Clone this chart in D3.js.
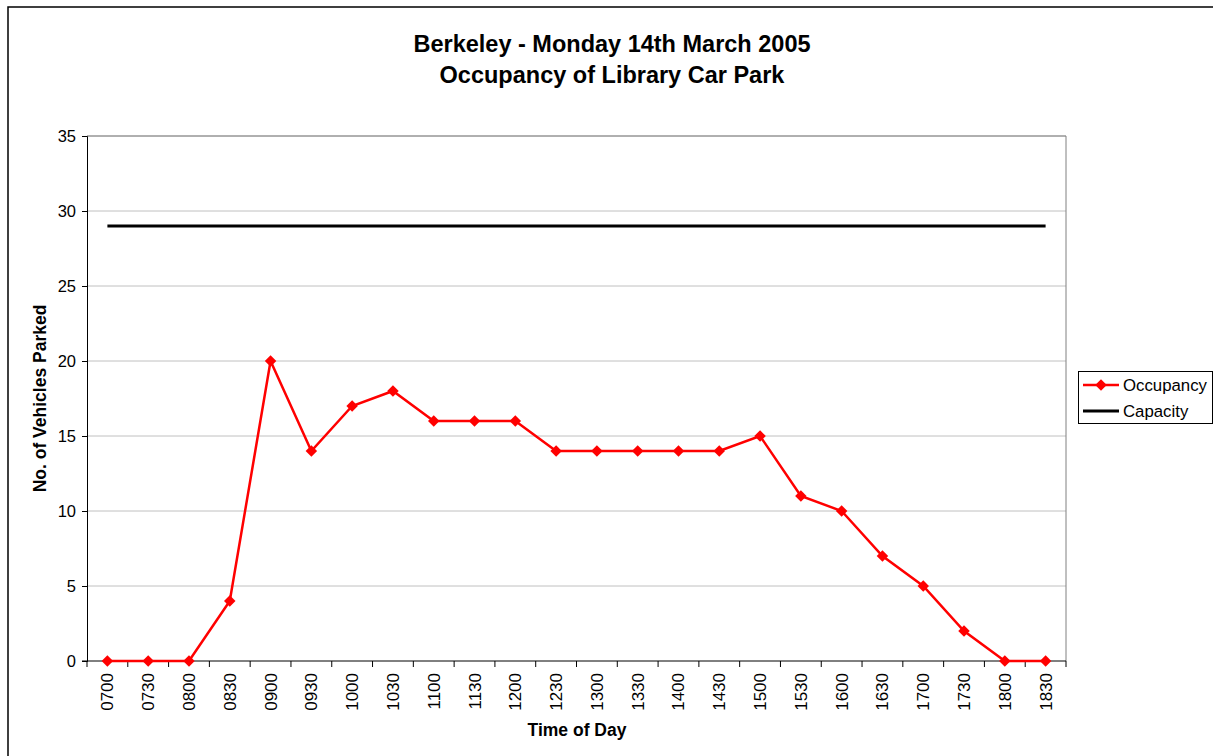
<!DOCTYPE html>
<html>
<head>
<meta charset="utf-8">
<script src="https://cdn.jsdelivr.net/npm/d3@7"></script>
<style>
  body { margin: 0; background: #fff; }
  svg { font-family: "Liberation Sans", Arial, sans-serif; }
</style>
</head>
<body>
<svg id="chart" width="1213" height="756"></svg>
<script>
// chart values
var times = ["0700","0730","0800","0830","0900","0930","1000","1030","1100","1130","1200","1230",
             "1300","1330","1400","1430","1500","1530","1600","1630","1700","1730","1800","1830"];
var occupancy = [0,0,0,4,20,14,17,18,16,16,16,14,14,14,14,14,15,11,10,7,5,2,0,0];
var capacity = [29,29,29,29,29,29,29,29,29,29,29,29,29,29,29,29,29,29,29,29,29,29,29,29];
var yTicks = [0,5,10,15,20,25,30,35];
var titleLines = ["Berkeley - Monday 14th March 2005", "Occupancy of Library Car Park"];

var svg = d3.select('#chart');

// outer chart border
svg.append('rect')
    .attr('x', 8).attr('y', 7)
    .attr('width', 1220).attr('height', 770)
    .attr('fill', 'none')
    .attr('stroke', '#000')
    .attr('stroke-width', 1.5);

var plot = { left: 87, top: 136, right: 1066, bottom: 661 };

var xScale = d3.scaleBand()
    .domain(times)
    .range([plot.left, plot.right]);

var yScale = d3.scaleLinear()
    .domain([0, 35])
    .range([plot.bottom, plot.top]);

// gridlines
svg.append('g').selectAll('line')
    .data(yTicks.filter(function(d){ return d > 0; }))
    .enter()
    .append('line')
        .attr('x1', plot.left).attr('x2', plot.right)
        .attr('y1', function(d){ return yScale(d); })
        .attr('y2', function(d){ return yScale(d); })
        .attr('stroke', '#c0c0c0')
        .attr('stroke-width', 1);

// plot frame (top + right)
svg.append('path')
    .attr('d', `M${plot.left},${plot.top}H${plot.right}V${plot.bottom}`)
    .attr('fill', 'none')
    .attr('stroke', '#808080')
    .attr('stroke-width', 1);

// y axis
var yAxis = d3.axisLeft(yScale)
    .tickValues(yTicks)
    .tickSize(5)
    .tickPadding(6);

var yG = svg.append('g')
    .attr('transform', `translate(${plot.left},0)`)
    .call(yAxis);
yG.select('.domain').attr('stroke', '#000');
yG.selectAll('text').attr('font-size', 16.5).attr('font-family', '"Liberation Sans", Arial, sans-serif').attr('fill', '#000');

// x axis: ticks between categories
var xAxisG = svg.append('g');
xAxisG.append('line')
    .attr('x1', plot.left - 5).attr('x2', plot.right)
    .attr('y1', plot.bottom).attr('y2', plot.bottom)
    .attr('stroke', '#000');
var bounds = times.map(function(t){ return xScale(t); }).concat([plot.right]);
xAxisG.selectAll('.xtick')
    .data(bounds)
    .enter()
    .append('line')
        .attr('x1', function(d){ return d; })
        .attr('x2', function(d){ return d; })
        .attr('y1', plot.bottom)
        .attr('y2', plot.bottom + 6)
        .attr('stroke', '#000');
xAxisG.selectAll('.xlabel')
    .data(times)
    .enter()
    .append('text')
        .attr('transform', function(d){
            return `translate(${xScale(d) + xScale.bandwidth() / 2 + 6},${plot.bottom + 12}) rotate(-90)`;
        })
        .attr('text-anchor', 'end')
        .attr('font-size', 17)
        .text(function(d){ return d; });

// axis titles
svg.append('text')
    .attr('x', 577)
    .attr('y', 736)
    .attr('text-anchor', 'middle')
    .attr('font-size', 17.5)
    .attr('font-weight', 'bold')
    .text('Time of Day');

svg.append('text')
    .attr('transform', `translate(46,${(plot.top + plot.bottom) / 2}) rotate(-90)`)
    .attr('text-anchor', 'middle')
    .attr('font-size', 17.5)
    .attr('font-weight', 'bold')
    .text('No. of Vehicles Parked');

// title
svg.append('g').selectAll('text')
    .data(titleLines)
    .enter()
    .append('text')
        .attr('x', 612)
        .attr('y', function(d, i){ return 52 + i * 31; })
        .attr('text-anchor', 'middle')
        .attr('font-size', 23.5)
        .attr('font-weight', 'bold')
        .text(function(d){ return d; });

var cx = function(d, i){ return xScale(times[i]) + xScale.bandwidth() / 2; };

// capacity line
svg.append('path')
    .datum(capacity)
    .attr('fill', 'none')
    .attr('stroke', '#000')
    .attr('stroke-width', 3)
    .attr('d', d3.line().x(cx).y(function(d){ return yScale(d); }));

// occupancy line
svg.append('path')
    .datum(occupancy)
    .attr('fill', 'none')
    .attr('stroke', '#ff0000')
    .attr('stroke-width', 2.5)
    .attr('d', d3.line().x(cx).y(function(d){ return yScale(d); }));

var diamond = d3.symbol().type(d3.symbolDiamond2).size(84);
svg.append('g').selectAll('path')
    .data(occupancy)
    .enter()
    .append('path')
        .attr('d', diamond)
        .attr('transform', function(d, i){ return `translate(${cx(d, i)},${yScale(d)})`; })
        .attr('fill', '#ff0000');

// legend
var legend = svg.append('g');
legend.append('rect')
    .attr('x', 1078.5).attr('y', 371.5)
    .attr('width', 134).attr('height', 52)
    .attr('fill', '#fff')
    .attr('stroke', '#000');
var legendItems = [
    { name: 'Occupancy', color: '#ff0000', width: 2.5, marker: true },
    { name: 'Capacity', color: '#000', width: 3, marker: false }
];
legendItems.forEach(function(item, i){
    var y = 385 + i * 26;
    legend.append('line')
        .attr('x1', 1083).attr('x2', 1119)
        .attr('y1', y).attr('y2', y)
        .attr('stroke', item.color)
        .attr('stroke-width', item.width);
    if (item.marker) {
        legend.append('path')
            .attr('d', diamond)
            .attr('transform', `translate(1101,${y})`)
            .attr('fill', item.color);
    }
    legend.append('text')
        .attr('x', 1123)
        .attr('y', y + 6)
        .attr('font-size', 16.8)
        .text(item.name);
});
</script>
</body>
</html>
